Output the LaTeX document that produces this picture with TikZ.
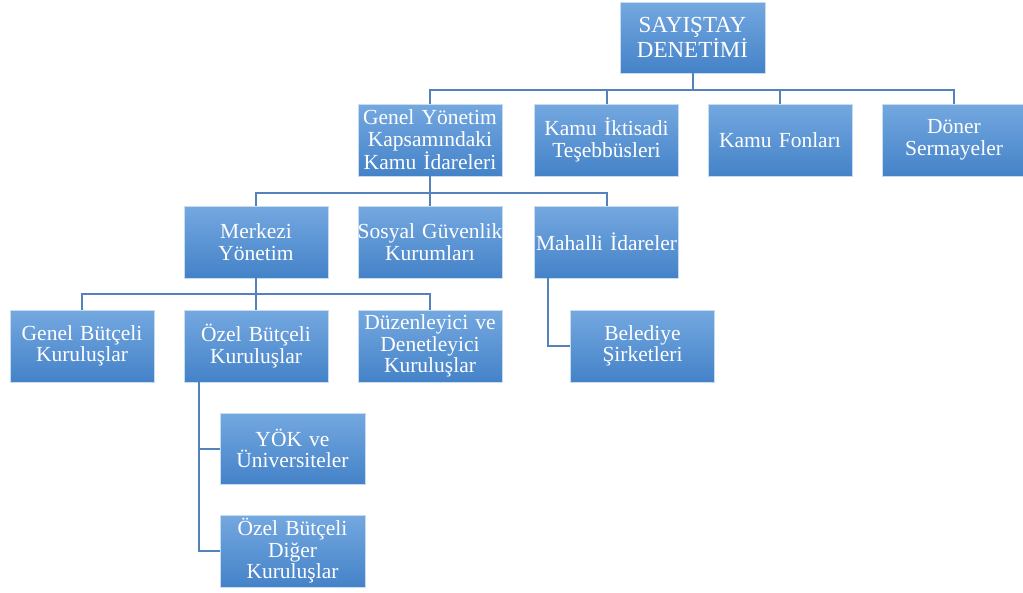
\documentclass[tikz,border=0pt]{standalone}
\usepackage{fontspec}
\setmainfont{Liberation Serif}
\definecolor{boxtop}{RGB}{116,168,224}
\definecolor{boxbot}{RGB}{68,130,200}
\definecolor{boxedge}{RGB}{200,220,240}
\definecolor{linkc}{RGB}{84,130,188}
\newcommand\boxfont{\fontsize{21.5}{21.5}\selectfont}
\newcommand\topfont{\fontsize{23}{23.5}\selectfont}
\tikzset{
  orgbox/.style={rectangle, draw=boxedge, line width=0.8pt, top color=boxtop, bottom color=boxbot,
    text=white, align=center, inner sep=0pt, font=\boxfont,
    minimum width=144pt, minimum height=72pt, text width=142pt},
  link/.style={draw=linkc, line width=2pt}
}
\begin{document}
\begin{tikzpicture}[x=1pt,y=1pt]
\useasboundingbox (0,0) rectangle (1023,-592);
% nodes
\node[orgbox, font=\topfont, minimum width=145pt, minimum height=71pt] (top) at (692.5,-37.5) {SAYIŞTAY\\DENETİMİ};
\node[orgbox] (gy) at (430,-140) {Genel Yönetim\\Kapsamındaki\\Kamu İdareleri};
\node[orgbox] (ki) at (606.5,-140) {Kamu İktisadi\\Teşebbüsleri};
\node[orgbox] (kf) at (780,-140) {Kamu Fonları};
\node[orgbox] (ds) at (954,-140) {Döner\\Sermayeler};
\node[orgbox] (merk) at (256,-242) {Merkezi\\Yönetim};
\node[orgbox] (sgk) at (430,-242) {\makebox[142pt]{Sosyal Güvenlik}\\Kurumları};
\node[orgbox] (mah) at (606.5,-242) {Mahalli İdareler};
\node[orgbox] (gb) at (82,-346) {Genel Bütçeli\\Kuruluşlar};
\node[orgbox] (ob) at (256,-346) {Özel Bütçeli\\Kuruluşlar};
\node[orgbox] (dd) at (430,-346) {Düzenleyici ve\\Denetleyici\\Kuruluşlar};
\node[orgbox] (bel) at (642.5,-346) {Belediye\\Şirketleri};
\node[orgbox, minimum width=145pt, minimum height=71pt] (yok) at (292.5,-448.5) {YÖK ve\\Üniversiteler};
\node[orgbox, minimum width=145pt] (odk) at (292.5,-551) {Özel Bütçeli\\Diğer\\Kuruluşlar};
% bus coordinates
\coordinate (b1) at (0,-90);
\coordinate (b2) at (0,-193);
\coordinate (b3) at (0,-294);
% connectors
\draw[link] (top.south) -- (top.south |- b1);
\draw[link] (gy.north) -- (gy.north |- b1) -- (ds.north |- b1) -- (ds.north);
\draw[link] (ki.north) -- (ki.north |- b1);
\draw[link] (kf.north) -- (kf.north |- b1);
\draw[link] (gy.south) -- (gy.south |- b2);
\draw[link] (merk.north) -- (merk.north |- b2) -- (mah.north |- b2) -- (mah.north);
\draw[link] (sgk.north) -- (sgk.north |- b2);
\draw[link] (merk.south) -- (merk.south |- b3);
\draw[link] (gb.north) -- (gb.north |- b3) -- (dd.north |- b3) -- (dd.north);
\draw[link] (ob.north) -- (ob.north |- b3);
\draw[link] ([xshift=14pt]mah.south west) |- (bel.west);
\draw[link] ([xshift=15pt]ob.south west) |- (yok.west);
\draw[link] ([xshift=15pt]ob.south west) |- (odk.west);
\end{tikzpicture}
\end{document}
